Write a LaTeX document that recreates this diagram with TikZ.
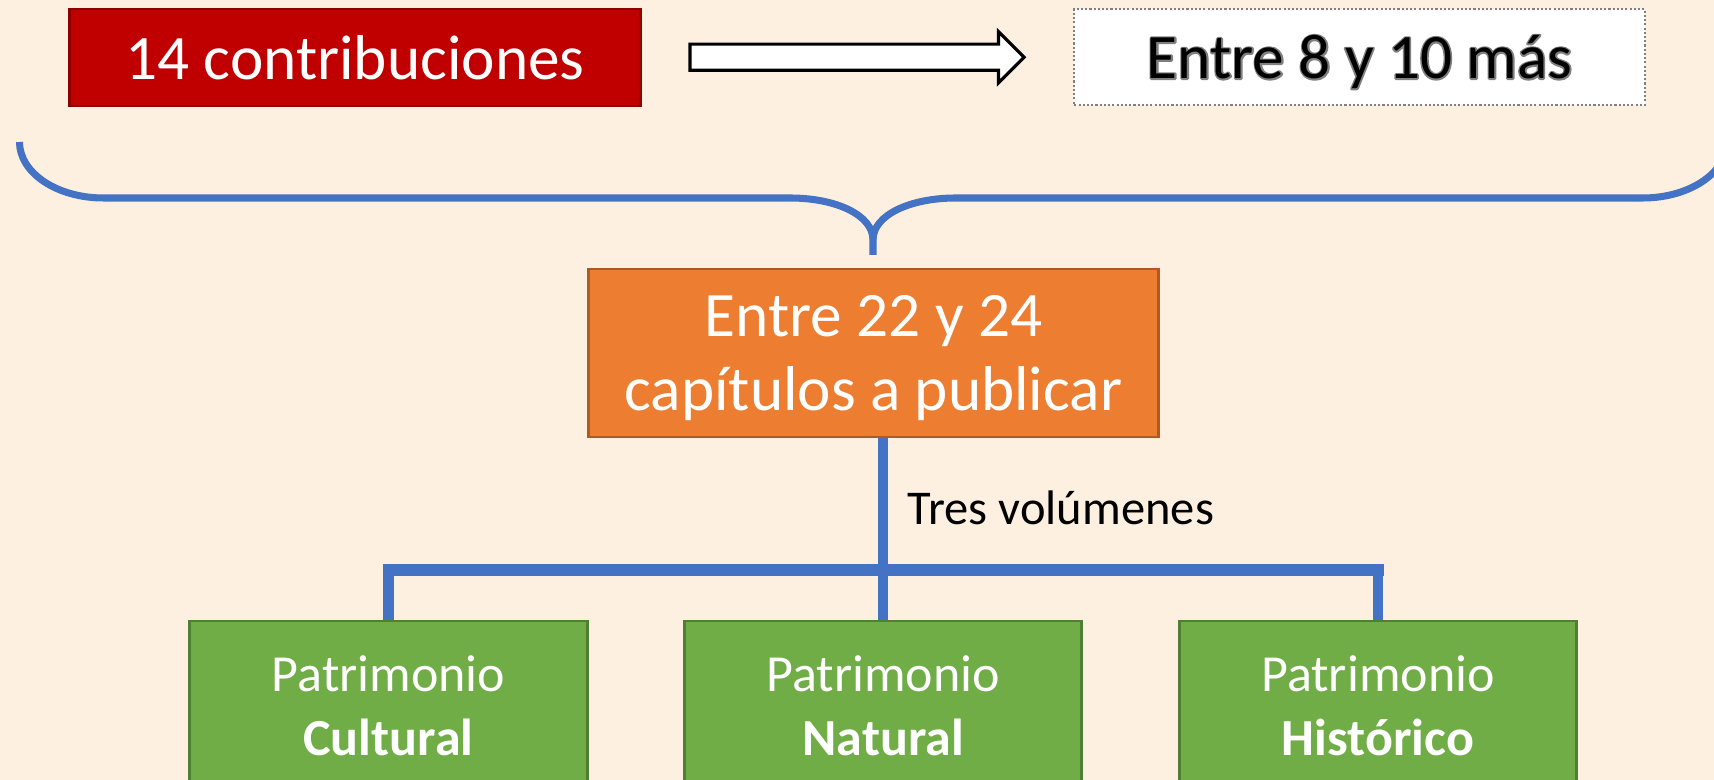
\documentclass[tikz,border=0pt]{standalone}
\usepackage{fontspec}
\setmainfont{Carlito}
\usetikzlibrary{calc,shapes.arrows}

\definecolor{fondo}{HTML}{FEF0E0}
\definecolor{rojoF}{HTML}{C00000}
\definecolor{rojoB}{HTML}{8C0000}
\definecolor{naranjaF}{HTML}{ED7D31}
\definecolor{naranjaB}{HTML}{AE5A21}
\definecolor{verdeF}{HTML}{70AD47}
\definecolor{verdeB}{HTML}{507E32}
\definecolor{azul}{HTML}{4472C4}

% texto negro con borde gris
\newcommand{\conborde}[1]{\rlap{\special{pdf:literal 1 Tr 0.5 0.5 0.5 RG 0.9 w 1 j}#1\special{pdf:literal 0 Tr}}#1}

\tikzset{
  caja/.style={draw, line width=0.8pt, text=white, align=center, inner sep=0pt,
    minimum width=5.7cm, font=\fontsize{18}{21}\selectfont},
  volumen/.style={caja, fill=verdeF, draw=verdeB, minimum width=3.97cm,
    minimum height=1.7cm, font=\fontsize{14.8}{18.2}\selectfont},
  flecha/.style={single arrow, draw=black, fill=white, line width=0.9pt,
    inner xsep=0pt, inner ysep=0.115cm, single arrow head extend=0.125cm,
    minimum height=3.34cm},
  llave/.style={draw=azul, line width=2pt},
  rama/.style={draw=azul, line width=2.9pt},
  grueso/.style={draw=azul, line width=3.4pt, line cap=rect}
}

\begin{document}
\begin{tikzpicture}[x=0.01cm, y=-0.01cm]
  \useasboundingbox (0,0) rectangle (1714,780);
  \fill[fondo] (0,0) rectangle (1714,780);

  % fila de arriba
  \node[caja, fill=rojoF, draw=rojoB, minimum height=0.97cm] (contrib) at (355,57.5) {14 contribuciones};
  \node[caja, fill=white, draw=gray, line width=0.5pt, dash pattern=on 0.6pt off 0.6pt,
    text=black, minimum height=0.96cm, text depth=0pt] (extra) at (1359.5,57) {\conborde{Entre 8 y 10 más}};
  \node[flecha] (flecha) at ($(contrib.east)!0.5!(extra.west) + (-7,0)$) {};

  % llave
  \draw[llave] (19.5,142) .. controls (19.5,173) and (57,198) .. (103.5,198) -- (790,198)
    .. controls (836,198) and (873,215) .. (873,240) -- (873,255);
  \draw[llave] (873,240) .. controls (873,215) and (910,198) .. (956,198) -- (1643,198)
    .. controls (1689,198) and (1727,173) .. (1727,142);

  \node[caja, fill=naranjaF, draw=naranjaB, minimum height=1.68cm, text depth=0pt] (capitulos) at (873.5,353) {Entre 22 y 24\\capítulos a publicar};

  % volumenes
  \def\paso{494.75}
  \foreach \nom/\tipo [count=\x from 0] in {cultural/Cultural, natural/Natural, historico/Histórico}{
    \node[volumen] (\nom) at (388.5 + \x*\paso, 706) {Patrimonio\\\textbf{\tipo}};
  }
  \coordinate (barra) at (0,570);
  \draw[grueso] (cultural.north |- barra) -- (historico.north |- barra);
  \foreach \nom in {cultural, historico}{
    \draw[rama] (\nom.north |- barra) -- (\nom.north);
  }
  \draw[rama] (capitulos.south -| natural.north) -- (natural.north);
  \node[anchor=west, inner sep=0pt, font=\fontsize{13.8}{16}\selectfont] (tres) at (907,508) {Tres volúmenes};
\end{tikzpicture}
\end{document}
